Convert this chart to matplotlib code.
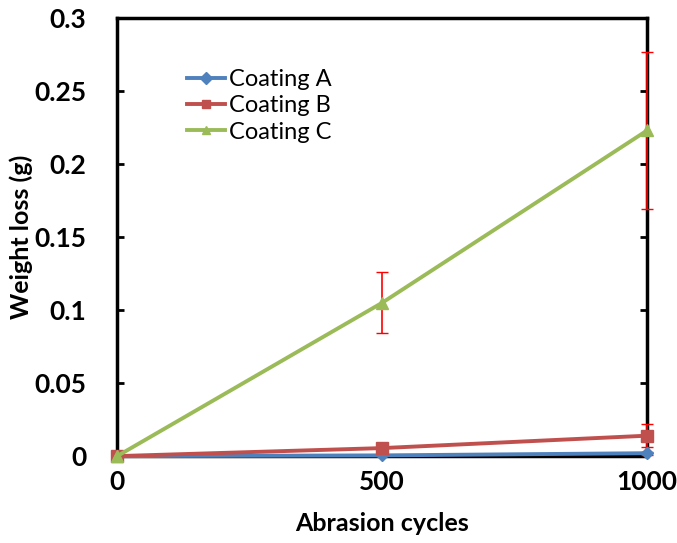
import matplotlib
matplotlib.use("Agg")
from matplotlib import pyplot as plt

cycles = [0, 500, 1000]
coating_a = [0, 0.0005, 0.002]
coating_b = [0, 0.0055, 0.014]
coating_c = [0, 0.105, 0.223]
err_a = [0, 0.0005, 0.001]
err_b = [0, 0.001, 0.008]
err_c = [0, 0.021, 0.054]

plt.rcParams['font.family'] = ['Lato', 'DejaVu Sans']

fig = plt.figure(figsize=(6.77, 5.43), dpi=100)
ax = fig.add_axes([0.173, 0.160, 0.783, 0.807])

# error bars above the spines (like excel), lines on top
for ys, es in [(coating_c, err_c), (coating_b, err_b), (coating_a, err_a)]:
    eb = ax.errorbar(cycles, ys, yerr=es, fmt='none', ecolor='red', elinewidth=1.2, capsize=4, zorder=3)
    for art in eb.lines[1] + eb.lines[2]:
        art.set_clip_on(False)
        art.set_zorder(3)

ax.plot(cycles, coating_a, color='#4F81BD', lw=2.8, marker='D', ms=6, label='Coating A', zorder=4, clip_on=False)
ax.plot(cycles, coating_b, color='#C0504D', lw=2.8, marker='s', ms=8, label='Coating B', zorder=4, clip_on=False)
ax.plot(cycles, coating_c, color='#9BBB59', lw=2.8, marker='^', ms=9, label='Coating C', zorder=4, clip_on=False)

ax.set_xlim(0, 1000)
ax.set_ylim(0, 0.3)
ax.set_xticks([0, 500, 1000])
ax.set_yticks([0, 0.05, 0.1, 0.15, 0.2, 0.25, 0.3])
ax.set_yticklabels(['0', '0.05', '0.1', '0.15', '0.2', '0.25', '0.3'])
ax.tick_params(axis='y', direction='in', left=True, right=True, length=5, width=2, labelsize=19, pad=22)
ax.tick_params(axis='x', length=0, labelsize=19, pad=10)
for lbl in ax.get_xticklabels() + ax.get_yticklabels():
    lbl.set_fontweight('bold')
for sp in ax.spines.values():
    sp.set_linewidth(2.5)

ax.set_xlabel('Abrasion cycles', fontsize=18, fontweight='bold', labelpad=13)
ax.set_ylabel('Weight loss (g)', fontsize=18, fontweight='bold')
ax.yaxis.set_label_coords(-0.158, 0.5)

leg = ax.legend(loc='upper left', bbox_to_anchor=(0.11, 0.91), frameon=False, fontsize=17,
                handlelength=1.6, handletextpad=0.15, labelspacing=0.22, borderpad=0)
for h in leg.legend_handles:
    h.set_markersize(6)

fig.savefig('out.png', dpi=100)
